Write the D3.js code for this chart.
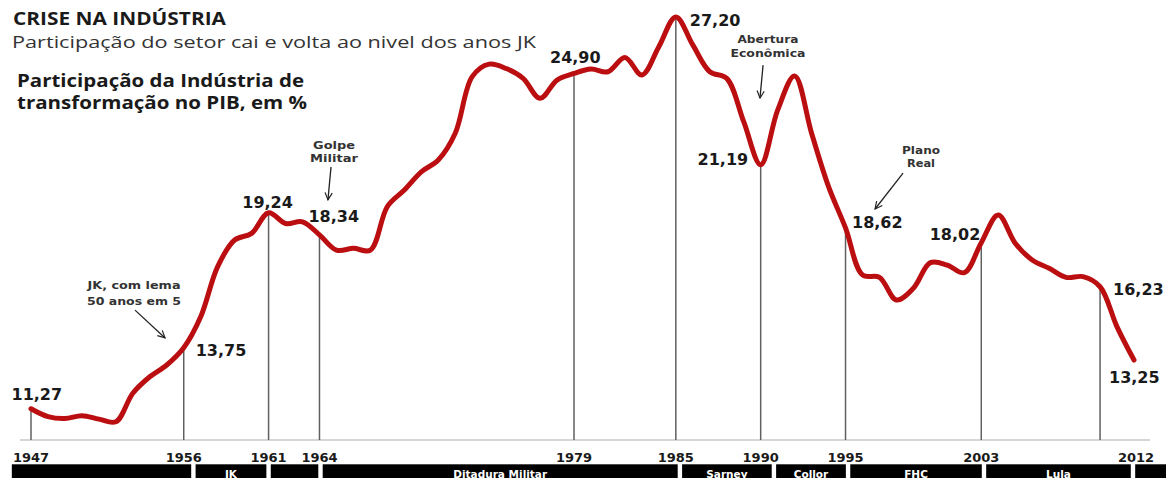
<!DOCTYPE html>
<html>
<head>
<meta charset="utf-8">
<script src="https://cdn.jsdelivr.net/npm/d3@7/dist/d3.min.js"></script>
<style>
  html, body { margin: 0; padding: 0; background: #fff; }
  svg { display: block; }
</style>
</head>
<body>
<svg id="chart" width="1166" height="478"></svg>
<script>
// Participação da indústria de transformação no PIB (%), 1947–2012
const years = d3.range(1947, 2013);
const shares = [
  11.27, 10.95, 10.87, 10.99, 10.85, 10.74, 11.90, 12.57, 13.05, 13.75,
  15.01, 17.05, 18.13, 18.40, 19.24, 18.80, 18.87, 18.34, 17.72, 17.79,
  17.72, 19.49, 20.16, 20.90, 21.38, 22.47, 24.77, 25.28, 25.10, 24.70,
  23.89, 24.63, 24.90, 25.08, 24.97, 25.55, 24.84, 25.99, 27.20, 26.06,
  24.97, 24.70, 22.94, 21.19, 23.41, 24.80, 22.47, 20.30, 18.62, 16.71,
  16.61, 15.69, 16.17, 17.21, 17.11, 16.80, 18.02, 19.15, 18.00, 17.32,
  16.98, 16.61, 16.64, 16.23, 14.60, 13.25
];

// Years marked with a drop line, years written on the axis, years whose value is written
const markedYears   = [1947, 1956, 1961, 1964, 1979, 1985, 1990, 1995, 2003, 2010];
const axisYears     = [1947, 1956, 1961, 1964, 1979, 1985, 1990, 1995, 2003, 2012];
const labelledYears = [1947, 1956, 1961, 1964, 1979, 1985, 1990, 1995, 2003, 2010, 2012];

// Government periods in the black band (boundaries in years)
const periodBreaks = [1945.74, 1956.57, 1961.0, 1964.06, 1985.24, 1990.78, 1995.15, 2003.16, 2011.94, 2015];
const periodNames  = ["", "JK", "", "Ditadura Militar", "Sarney", "Collor", "FHC", "Lula", ""];

// Event notes, placed in chart coordinates [year, %]
const notes = [
  { lines: ["JK, com lema", "50 anos em 5"], at: [1953.07, 16.14], from: [1953.13, 15.28], to: [1954.90, 14.15] },
  { lines: ["Golpe", "Militar"],              at: [1964.86, 21.83], from: [1964.68, 21.10], to: [1964.50, 19.76] },
  { lines: ["Abertura", "Econômica"],         at: [1990.43, 26.14], from: [1990.14, 25.24], to: [1989.96, 23.90] },
  { lines: ["Plano", "Real"],                 at: [1999.45, 21.63], from: [1998.39, 20.85], to: [1996.74, 19.39] }
];

const data = years.map((y, i) => ({ year: y, value: shares[i] }));
const valueOf = y => shares[years.indexOf(y)];
const fmt = v => v.toFixed(2).replace(".", ",");

const svg = d3.select("#chart");
const x = d3.scaleLinear().domain([1947, 2012]).range([31, 1134]);
const y = d3.scaleLinear().domain([10, 28]).range([440, -2.8]);

// Headings (set width keeps the wide lettering of the layout)
const headings = [
  { text: "CRISE NA INDÚSTRIA", x: 13, y: 24.5, size: 17, weight: 700, fill: "#1a1a1a", width: 213 },
  { text: "Participação do setor cai e volta ao nivel dos anos JK", x: 12, y: 47.5, size: 16.5, weight: 400, fill: "#333", width: 524 },
  { text: "Participação da Indústria de", x: 17, y: 87, size: 17, weight: 700, fill: "#1a1a1a", width: 287 },
  { text: "transformação no PIB, em %", x: 17, y: 109, size: 17, weight: 700, fill: "#1a1a1a", width: 290 }
];
svg.append("g").attr("font-family", "'Open Sans', sans-serif")
  .selectAll("text").data(headings).join("text")
  .attr("x", d => d.x).attr("y", d => d.y)
  .attr("font-size", d => d.size).attr("font-weight", d => d.weight)
  .attr("fill", d => d.fill)
  .attr("textLength", d => d.width).attr("lengthAdjust", "spacingAndGlyphs")
  .text(d => d.text);

// Baseline
svg.append("line")
  .attr("x1", 20).attr("x2", 1150)
  .attr("y1", y(10)).attr("y2", y(10))
  .attr("stroke", "#c8c8c8").attr("stroke-width", 1.5);

// Drop lines
svg.append("g").selectAll("line").data(markedYears).join("line")
  .attr("x1", d => x(d)).attr("x2", d => x(d))
  .attr("y1", d => y(valueOf(d))).attr("y2", y(10))
  .attr("stroke", "#606060").attr("stroke-width", 1.5);

// Main line
svg.append("path").datum(data)
  .attr("fill", "none")
  .attr("stroke", "#bb0e10")
  .attr("stroke-width", 5)
  .attr("stroke-linejoin", "round")
  .attr("stroke-linecap", "round")
  .attr("d", d3.line().x(d => x(d.year)).y(d => y(d.value)).curve(d3.curveCatmullRom.alpha(0.5)));

// Value labels
const labelPlace = {
  1947: { dx: -19.5, dy: -9, anchor: "start" },
  1956: { dx: 12, dy: 8, anchor: "start" },
  1961: { dx: -1, dy: -5, anchor: "middle" },
  1964: { dx: -11, dy: -13, anchor: "start" },
  1979: { dx: -24, dy: -10.5, anchor: "start" },
  1985: { dx: 14, dy: 9, anchor: "start" },
  1990: { dx: -12.5, dy: 0.5, anchor: "end" },
  1995: { dx: 6.5, dy: 0.5, anchor: "start" },
  2003: { dx: -1, dy: -2.5, anchor: "end" },
  2010: { dx: 13, dy: 8.5, anchor: "start" },
  2012: { dx: -25, dy: 23, anchor: "start" }
};
svg.append("g")
  .attr("font-family", "'DejaVu Sans', Verdana, sans-serif")
  .attr("font-size", 16).attr("font-weight", 700).attr("fill", "#1a1a1a")
  .selectAll("text").data(labelledYears).join("text")
  .attr("x", d => x(d) + labelPlace[d].dx)
  .attr("y", d => y(valueOf(d)) + labelPlace[d].dy)
  .attr("text-anchor", d => labelPlace[d].anchor)
  .text(d => fmt(valueOf(d)));

// Notes with arrows
svg.append("defs").append("marker")
  .attr("id", "arrow").attr("viewBox", "0 0 10 10")
  .attr("refX", 9).attr("refY", 5)
  .attr("markerWidth", 9).attr("markerHeight", 9)
  .attr("markerUnits", "userSpaceOnUse")
  .attr("orient", "auto")
  .append("path").attr("d", "M1,1 L9,5 L1,9")
  .attr("fill", "none").attr("stroke", "#222").attr("stroke-width", 1.3);

const noteWidths = {
  "JK, com lema": 93, "50 anos em 5": 94, "Golpe": 42, "Militar": 48,
  "Abertura": 61, "Econômica": 75, "Plano": 38, "Real": 28
};
const noteSpacing = [16, 13, 14, 13];
const noteG = svg.append("g")
  .attr("font-family", "'DejaVu Sans', Verdana, sans-serif")
  .attr("font-size", 10).attr("font-weight", 700).attr("fill", "#333");
notes.forEach((n, k) => {
  n.lines.forEach((t, i) => {
    noteG.append("text")
      .attr("x", x(n.at[0])).attr("y", y(n.at[1]) + i * noteSpacing[k])
      .attr("text-anchor", "middle")
      .attr("textLength", noteWidths[t]).attr("lengthAdjust", "spacingAndGlyphs")
      .text(t);
  });
  noteG.append("line")
    .attr("x1", x(n.from[0])).attr("y1", y(n.from[1]))
    .attr("x2", x(n.to[0])).attr("y2", y(n.to[1]))
    .attr("stroke", "#222").attr("stroke-width", 1.3)
    .attr("marker-end", "url(#arrow)");
});

// Axis year labels
svg.append("g")
  .attr("font-family", "'DejaVu Sans', Verdana, sans-serif")
  .attr("font-size", 13).attr("font-weight", 700).attr("fill", "#1a1a1a")
  .selectAll("text").data(axisYears).join("text")
  .attr("x", d => x(d) + (d === 2012 ? 2 : 0))
  .attr("y", 462)
  .attr("text-anchor", "middle")
  .text(d => d);

// Government band
const periods = periodNames.map((name, i) => ({ name, from: periodBreaks[i], to: periodBreaks[i + 1] }));
const band = svg.append("g");
band.selectAll("rect").data(periods).join("rect")
  .attr("x", d => x(d.from) + 2.2)
  .attr("width", d => x(d.to) - x(d.from) - 4.4)
  .attr("y", 464.3).attr("height", 20)
  .attr("fill", "#000");
band.selectAll("text").data(periods.filter(d => d.name)).join("text")
  .attr("x", d => (x(d.from) + x(d.to)) / 2)
  .attr("y", 477.5)
  .attr("text-anchor", "middle")
  .attr("font-family", "'DejaVu Sans', Verdana, sans-serif")
  .attr("font-size", 10.5).attr("font-weight", 700)
  .attr("fill", "#fff")
  .text(d => d.name);
</script>
</body>
</html>
